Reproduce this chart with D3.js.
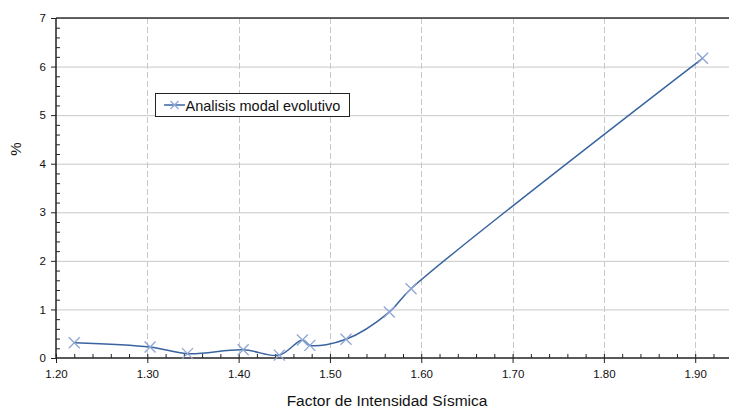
<!DOCTYPE html>
<html><head><meta charset="utf-8">
<script src="https://cdn.jsdelivr.net/npm/d3@7"></script>
<style>body{margin:0;background:#fff}svg{display:block;font-family:"Liberation Sans",Arial,sans-serif}</style>
</head><body><svg id="c" width="729" height="412"></svg>
<script>
const factor = [1.22, 1.303, 1.344, 1.405, 1.4446, 1.4698, 1.478, 1.5176, 1.565, 1.5888, 1.908];
const percent = [0.315, 0.226, 0.09, 0.17, 0.06, 0.37, 0.26, 0.385, 0.946, 1.426, 6.17];
const xTicks = [1.2, 1.3, 1.4, 1.5, 1.6, 1.7, 1.8, 1.9];
const yTicks = [0, 1, 2, 3, 4, 5, 6, 7];
const seriesName = "Analisis modal evolutivo";
const xTitle = "Factor de Intensidad Sísmica";
const yTitle = "%";

const svg = d3.select("#c");
const m = {l:56, t:18, r:729, b:358};
const x = d3.scaleLinear().domain([1.2, 1.937]).range([m.l, m.r]);
const y = d3.scaleLinear().domain([0, 7]).range([m.b, m.t]);

// gridlines
svg.append("g").selectAll("line").data(yTicks.slice(1)).join("line")
  .attr("x1", m.l).attr("x2", m.r).attr("y1", d=>y(d)+0.5).attr("y2", d=>y(d)+0.5)
  .attr("stroke", "#c8c8c8").attr("stroke-width", 1);
svg.append("g").selectAll("line").data(xTicks.slice(1)).join("line")
  .attr("x1", d=>Math.round(x(d))+0.5).attr("x2", d=>Math.round(x(d))+0.5).attr("y1", m.t).attr("y2", m.b)
  .attr("stroke", "#c8c8c8").attr("stroke-width", 1).attr("stroke-dasharray", "6,3");

// top border
svg.append("line").attr("x1", m.l).attr("x2", m.r).attr("y1", m.t).attr("y2", m.t)
  .attr("stroke", "#333").attr("stroke-width", 1.5);

// y axis
const yMinor = d3.range(0, 7.001, 0.2).filter(v => Math.abs(v - Math.round(v)) > 1e-6);
svg.append("g").attr("transform", `translate(${m.l},0)`)
  .call(d3.axisLeft(y).tickValues(yMinor).tickSize(-4).tickFormat(""))
  .call(g => g.select(".domain").remove())
  .call(g => g.selectAll("line").attr("stroke", "#222"));
const ya = svg.append("g").attr("transform", `translate(${m.l},0)`)
  .call(d3.axisLeft(y).tickValues(yTicks).tickSize(5).tickPadding(5).tickFormat(d3.format("d")));
ya.select(".domain").attr("stroke", "#222").attr("stroke-width", 1.5).attr("d", `M0,${m.t}V${m.b}`);
ya.selectAll("line").attr("stroke", "#222");
ya.selectAll("text").attr("font-size", 11.5).attr("fill", "#111").attr("font-family", '"Liberation Sans",Arial,sans-serif');

// x axis
const xMinor = d3.range(1.2, 1.937, 0.02).filter(v => Math.abs(v*10 - Math.round(v*10)) > 1e-6);
svg.append("g").attr("transform", `translate(0,${m.b})`)
  .call(d3.axisBottom(x).tickValues(xMinor).tickSize(-4).tickFormat(""))
  .call(g => g.select(".domain").remove())
  .call(g => g.selectAll("line").attr("stroke", "#222"));
const xa = svg.append("g").attr("transform", `translate(0,${m.b})`)
  .call(d3.axisBottom(x).tickValues(xTicks).tickSize(5).tickPadding(7).tickFormat(d3.format(".2f")));
xa.select(".domain").attr("stroke", "#222").attr("stroke-width", 1.5).attr("d", `M${m.l},0H${m.r}`);
xa.selectAll(".tick line").attr("y1", -4).attr("stroke", "#222");
xa.selectAll("text").attr("font-size", 11.5).attr("fill", "#111").attr("font-family", '"Liberation Sans",Arial,sans-serif');

// series
const pts = factor.map((f,i)=>[f, percent[i]]);
svg.append("path").datum(pts)
  .attr("d", d3.line().x(d=>x(d[0])).y(d=>y(d[1])).curve(d3.curveCatmullRom.alpha(0.5)))
  .attr("fill", "none").attr("stroke", "#3a64a0").attr("stroke-width", 1.5);
const cross = (cx, cy, s) => `M${cx-s},${cy-s}L${cx+s},${cy+s}M${cx-s},${cy+s}L${cx+s},${cy-s}`;
svg.append("g").selectAll("path").data(pts).join("path")
  .attr("d", d=>cross(x(d[0]), y(d[1]), 5.5))
  .attr("stroke", "#8ea6d4").attr("stroke-width", 1.3).attr("fill", "none");

// legend
const lg = svg.append("g");
lg.append("rect").attr("x", 155.5).attr("y", 93.5).attr("width", 194).attr("height", 23)
  .attr("fill", "#fff").attr("stroke", "#222").attr("stroke-width", 1);
lg.append("line").attr("x1", 164).attr("x2", 185).attr("y1", 105).attr("y2", 105)
  .attr("stroke", "#3a64a0").attr("stroke-width", 1.5);
lg.append("path").attr("d", cross(174.5, 105, 4)).attr("stroke", "#8ea6d4").attr("stroke-width", 1.3);
lg.append("text").attr("x", 185.5).attr("y", 110.5).attr("font-size", 14.5).attr("fill", "#111").text(seriesName);

// titles
svg.append("text").attr("x", 387).attr("y", 406).attr("text-anchor", "middle")
  .attr("font-size", 15.5).attr("fill", "#111").text(xTitle);
svg.append("text").attr("transform", "translate(21,149) rotate(-90)").attr("text-anchor", "middle")
  .attr("font-size", 15).attr("fill", "#111").text(yTitle);
</script></body></html>
